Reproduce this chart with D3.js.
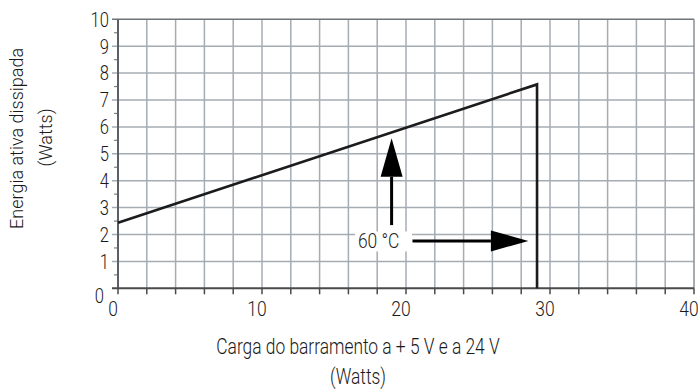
<!DOCTYPE html>
<html>
<head>
<meta charset="utf-8">
<script src="https://cdn.jsdelivr.net/npm/d3@7/dist/d3.min.js"></script>
<style>
  html, body { margin: 0; padding: 0; background: #fff; }
  svg { display: block; }
  text { font-family: Roboto, "Liberation Sans", sans-serif; font-weight: 300; fill: #1a1a1a; }
</style>
</head>
<body>
<svg id="chart" width="698" height="389"></svg>
<script>
// Tick values for both axes
const xTickLabels = [0, 10, 20, 30, 40];
const yTickLabels = [0, 1, 2, 3, 4, 5, 6, 7, 8, 9, 10];

// Dissipated power vs bus load at 60 °C (rises linearly, then cut off)
const loadWatts = [0, 29.1, 29.1];
const powerWatts = [2.44, 7.58, 0];

// Annotation arrows: [x, y] start and tip in data units
const upArrow = [[19, 2.35], [19, 5.58]];
const rightArrow = [[20.45, 1.76], [28.5, 1.76]];
const tempLabel = { text: "60 °C", x: 18.1, y: 1.76 };

const xTitle = "Carga do barramento a + 5 V e a 24 V";
const yTitle = "Energia ativa dissipada";
const unitLabel = "(Watts)";

const svg = d3.select("#chart");

const x = d3.scaleLinear().domain([0, 40]).range([118, 694]);
const y = d3.scaleLinear().domain([0, 10]).range([288.3, 19.3]);

const gridColor = "#a4acb4";

// Places a horizontally condensed text anchored at (px, py)
function condText(px, py, str, size, anchor, squeeze, rot) {
  return svg.append("g")
    .attr("transform", `translate(${px},${py}) rotate(${rot || 0}) scale(${squeeze},1)`)
    .append("text")
    .attr("text-anchor", anchor)
    .attr("font-size", size)
    .text(str);
}

// Vertical grid lines every 2 W
svg.selectAll("line.vx")
  .data(d3.range(2, 40, 2))
  .join("line")
  .attr("x1", d => x(d)).attr("x2", d => x(d))
  .attr("y1", y(10)).attr("y2", y(0))
  .attr("stroke", gridColor).attr("stroke-width", 1.5);

// Horizontal grid lines every 1 W (extend slightly left as major ticks)
svg.selectAll("line.hy")
  .data(d3.range(1, 10, 1))
  .join("line")
  .attr("x1", x(0) - 6).attr("x2", x(40))
  .attr("y1", d => y(d)).attr("y2", d => y(d))
  .attr("stroke", gridColor).attr("stroke-width", 1.5);

// Frame: top and right edges
svg.append("line")
  .attr("x1", x(0) - 6).attr("x2", x(40)).attr("y1", y(10)).attr("y2", y(10))
  .attr("stroke", "#6e757b").attr("stroke-width", 1.5);
svg.append("line")
  .attr("x1", x(40)).attr("x2", x(40)).attr("y1", y(10)).attr("y2", y(0))
  .attr("stroke", "#8a9197").attr("stroke-width", 1.5);

// Half-unit minor ticks on the left axis
svg.selectAll("line.my")
  .data(d3.range(0.5, 10, 1))
  .join("line")
  .attr("x1", x(0) - 4).attr("x2", x(0))
  .attr("y1", d => y(d)).attr("y2", d => y(d))
  .attr("stroke", "#7a8188").attr("stroke-width", 1.2);

// Bottom axis ticks every 2 W
svg.selectAll("line.tx")
  .data(d3.range(0, 41, 2))
  .join("line")
  .attr("x1", d => x(d)).attr("x2", d => x(d))
  .attr("y1", y(0)).attr("y2", y(0) + 6)
  .attr("stroke", "#4a4a4a").attr("stroke-width", 1.5);

// Axis lines
svg.append("line")
  .attr("x1", x(0)).attr("x2", x(0)).attr("y1", y(10)).attr("y2", y(0))
  .attr("stroke", "#5a6066").attr("stroke-width", 2);
svg.append("line")
  .attr("x1", x(0) - 6).attr("x2", x(40)).attr("y1", y(0)).attr("y2", y(0))
  .attr("stroke", "#4a4a4a").attr("stroke-width", 2);

// Tick labels
xTickLabels.forEach(d => condText(x(d) - 5, y(0) + 27.5, d, 21, "middle", 0.83));
yTickLabels.forEach(d => condText(d === 0 ? 104 : 109, y(d) + (d === 0 ? 15 : 7.3), d, 20, "end", 0.83));

// Axis titles
condText(358, 354, xTitle, 22, "middle", 0.79);
condText(358, 384, unitLabel, 22, "middle", 0.79);
condText(23, 138.4, yTitle, 18, "middle", 1.0, -90);
condText(52, 137.5, unitLabel, 18, "middle", 1.0, -90);

// Data curve
const line = d3.line().x(d => x(d[0])).y(d => y(d[1]));
svg.append("path")
  .datum(loadWatts.map((v, i) => [v, powerWatts[i]]))
  .attr("d", line)
  .attr("fill", "none")
  .attr("stroke", "#1c1c1c")
  .attr("stroke-width", 2.6)
  .attr("stroke-linejoin", "miter");

// Temperature label with white backing
svg.append("rect")
  .attr("x", 355).attr("y", y(tempLabel.y) - 9.5)
  .attr("width", 57).attr("height", 20)
  .attr("fill", "#fff");
condText(x(tempLabel.x), y(tempLabel.y) + 7.5, tempLabel.text, 21, "middle", 0.83);

// Arrows
function arrow(from, to, headLen, headHalf) {
  const x1 = x(from[0]), y1 = y(from[1]), x2 = x(to[0]), y2 = y(to[1]);
  const dx = x2 - x1, dy = y2 - y1, len = Math.hypot(dx, dy);
  const ux = dx / len, uy = dy / len, px = -uy, py = ux;
  const bx = x2 - ux * headLen, by = y2 - uy * headLen;
  svg.append("line")
    .attr("x1", x1).attr("y1", y1).attr("x2", bx).attr("y2", by)
    .attr("stroke", "#000").attr("stroke-width", 3);
  svg.append("path")
    .attr("d", `M${x2},${y2}L${bx + px * headHalf},${by + py * headHalf}L${bx - px * headHalf},${by - py * headHalf}Z`)
    .attr("fill", "#000");
}
arrow(upArrow[0], upArrow[1], 38.5, 11);
arrow(rightArrow[0], rightArrow[1], 37.5, 10.5);
</script>
</body>
</html>
